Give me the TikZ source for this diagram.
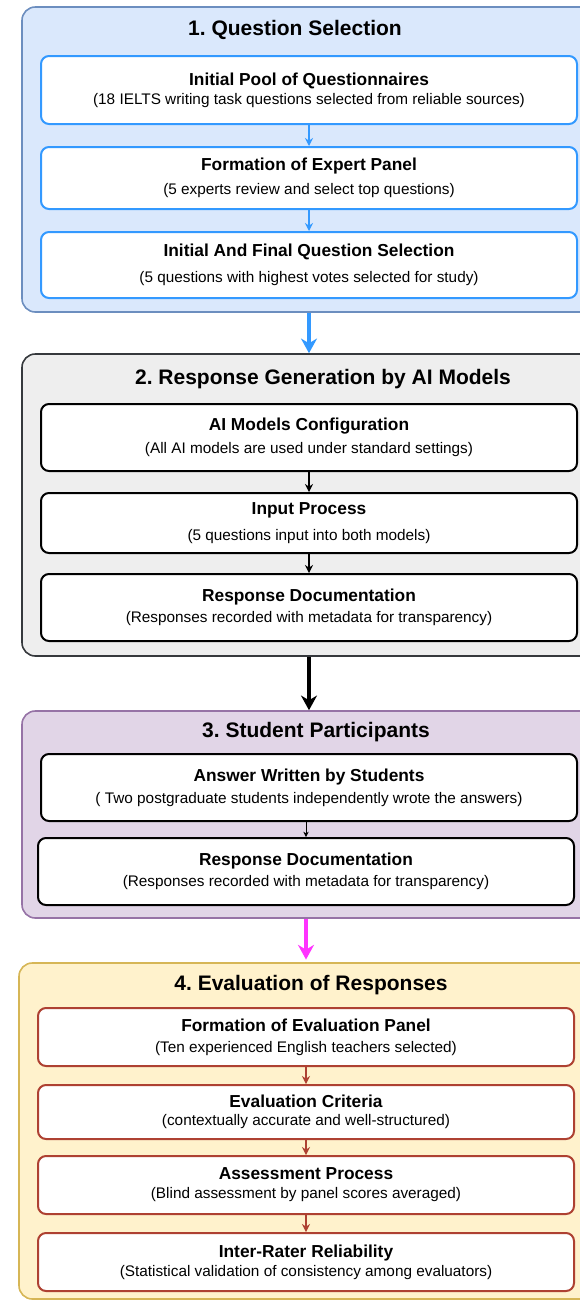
\documentclass[tikz,border=0pt]{standalone}
\usepackage{fontspec}
\setmainfont{Liberation Sans}
\usepackage{xcolor}
\usetikzlibrary{arrows.meta, positioning}
\frenchspacing

\definecolor{selfill}{HTML}{DAE8FC}
\definecolor{seldraw}{HTML}{6C8EBF}
\definecolor{selblue}{HTML}{3399FF}
\definecolor{genfill}{HTML}{EEEEEE}
\definecolor{gendraw}{HTML}{36393D}
\definecolor{stufill}{HTML}{E1D5E7}
\definecolor{studraw}{HTML}{9673A6}
\definecolor{stupink}{HTML}{FF33FF}
\definecolor{evafill}{HTML}{FFF2CC}
\definecolor{evadraw}{HTML}{D6B656}
\definecolor{evared}{HTML}{AE4132}

\newcommand{\hd}[1]{{\fontsize{13}{15}\selectfont\bfseries #1}}

\begin{document}
\begin{tikzpicture}[
    x=0.75pt, y=-0.75pt,
    font=\fontsize{11.5}{14}\selectfont,
    align=center,
    frame/.style={draw, line width=1.2pt, rounded corners=10pt,
        minimum width=433.5pt, inner sep=0pt},
    title/.style={font=\fontsize{15.75}{18}\selectfont\bfseries},
    stepbox/.style={draw, fill=white, line width=1.5pt, rounded corners=6pt,
        minimum width=402pt, inner sep=0pt},
    small/.style={line width=1.1pt, -{Stealth[length=6pt, width=6pt]}},
    big/.style={line width=2.4pt, -{Stealth[length=11pt, width=12pt]}}
]
\useasboundingbox (0,0) rectangle (580,1300);
\clip (0,0) rectangle (580,1300);

% 1. Question Selection
\node[frame, fill=selfill, draw=seldraw, minimum height=228.75pt] (sec1) at (311,159.5) {};
\node[title] (t1) at (295,30) {1. Question Selection};
\node[stepbox, draw=selblue, minimum height=51pt] (q1) at (309,90) {
    \hd{Initial Pool of Questionnaires}\\[0.25pt]
    (18 IELTS writing task questions selected from reliable sources)
};
\node[stepbox, draw=selblue, minimum height=46.5pt] (q2) at (309,178) {
    \hd{Formation of Expert Panel}\\[4pt]
    (5 experts review and select top questions)
};
\node[stepbox, draw=selblue, minimum height=49.5pt] (q3) at (309,265) {
    \hd{Initial And Final Question Selection}\\[5.5pt]
    (5 questions with highest votes selected for study)
};

% 2. Response Generation
\node[frame, fill=genfill, draw=gendraw, minimum height=226.5pt] (sec2) at (311,505) {};
\node[title] (t2) at (323,379) {2. Response Generation by AI Models};
\node[stepbox, minimum height=50.25pt] (g1) at (309,437.5) {
    \hd{AI Models Configuration}\\[3.25pt]
    (All AI models are used under standard settings)
};
\node[stepbox, minimum height=45pt] (g2) at (309,523) {
    \hd{Input Process}\\[5.5pt]
    (5 questions input into both models)
};
\node[stepbox, minimum height=50.25pt] (g3) at (309,607.5) {
    \hd{Response Documentation}\\[1.75pt]
    (Responses recorded with metadata for transparency)
};

% 3. Student Participants
\node[frame, fill=stufill, draw=studraw, minimum height=155.25pt] (sec3) at (311,814.5) {};
\node[title] (t3) at (316,732) {3. Student Participants};
\node[stepbox, minimum height=50.25pt] (s1) at (309,787.5) {
    \hd{Answer Written by Students}\\[2.5pt]
    ( Two postgraduate students independently wrote the answers)
};
\node[stepbox, minimum height=50.25pt] (s2) at (306,871.5) {
    \hd{Response Documentation}\\[1.75pt]
    (Responses recorded with metadata for transparency)
};

% 4. Evaluation of Responses
\node[frame, fill=evafill, draw=evadraw, minimum width=435.75pt, minimum height=252pt] (sec4) at (309.5,1131) {};
\node[title] (t4) at (311,985) {4. Evaluation of Responses};
\node[stepbox, draw=evared, minimum height=43.5pt] (e1) at (306,1037) {
    \hd{Formation of Evaluation Panel}\\[1.75pt]
    (Ten experienced English teachers selected)
};
\node[stepbox, draw=evared, minimum height=40.5pt] (e2) at (306,1112) {
    \hd{Evaluation Criteria}\\[-0.5pt]
    (contextually accurate and well-structured)
};
\node[stepbox, draw=evared, minimum height=43.5pt] (e3) at (306,1185) {
    \hd{Assessment Process}\\[0.25pt]
    (Blind assessment by panel scores averaged)
};
\node[stepbox, draw=evared, minimum height=43.5pt] (e4) at (306,1262) {
    \hd{Inter-Rater Reliability}\\[0.25pt]
    (Statistical validation of consistency among evaluators)
};

% connectors
\draw[small, selblue] (q1) -- (q2);
\draw[small, selblue] (q2) -- (q3);
\draw[big, selblue] (q3 |- sec1.south) -- (q3 |- sec2.north);
\draw[small] (g1) -- (g2);
\draw[small] (g2) -- (g3);
\draw[big, line width=3pt] (g3 |- sec2.south) -- (g3 |- sec3.north);
\draw[line width=0.75pt, -{Stealth[length=4pt, width=4pt]}] (s2 |- s1.south) -- (s2.north);
\draw[big, stupink] (s2 |- sec3.south) -- ([yshift=2pt]s2 |- sec4.north);
\draw[small, evared] (e1) -- (e2);
\draw[small, evared] (e2) -- (e3);
\draw[small, evared] (e3) -- (e4);

\end{tikzpicture}
\end{document}
